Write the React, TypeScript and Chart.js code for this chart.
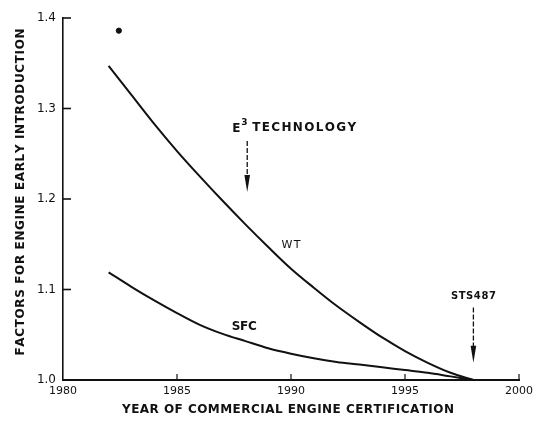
import React, { useEffect, useRef } from "react";
import { Chart, registerables } from "chart.js";

Chart.register(...registerables);

// ---- data ----
const years = [1982, 1983, 1984, 1985, 1986, 1987, 1988, 1989, 1990, 1991, 1992, 1993, 1994, 1995, 1996, 1997, 1998];
const wtValues = [1.347, 1.315, 1.283, 1.253, 1.225, 1.198, 1.172, 1.147, 1.123, 1.102, 1.082, 1.064, 1.047, 1.032, 1.019, 1.008, 1.0];
const sfcValues = [1.119, 1.103, 1.088, 1.074, 1.061, 1.051, 1.043, 1.035, 1.029, 1.024, 1.02, 1.017, 1.014, 1.011, 1.008, 1.004, 1.0];
const dotYears = [1982.45];
const dotValues = [1.386];

const xTicks = [1980, 1985, 1990, 1995, 2000];
const yTicks = [1.0, 1.1, 1.2, 1.3, 1.4];
const xTitle = "YEAR OF COMMERCIAL ENGINE CERTIFICATION";
const yTitle = "FACTORS FOR ENGINE EARLY INTRODUCTION";

const curveLabels = ["WT", "SFC"];
const curveLabelYears = [1990.0, 1987.95];
const curveLabelValues = [1.149, 1.0586];

const e3Label = ["E", "3", "TECHNOLOGY"];
const e3Year = 1987.42;
const e3Value = 1.274;
const e3ArrowYear = 1988.08;
const e3ArrowFrom = 1.264;
const e3ArrowTo = 1.2077;

const stsLabel = "STS487";
const stsYear = 1998.0;
const stsValue = 1.092;
const stsArrowFrom = 1.08;
const stsArrowTo = 1.019;

const INK = "#111";
const FONT = "'DejaVu Sans', sans-serif";

function drawSpaced(ctx: CanvasRenderingContext2D, text: string, cx: number, cy: number, font: string, target: number, rotate = 0) {
  ctx.save();
  ctx.font = font;
  ctx.fillStyle = INK;
  ctx.textBaseline = "middle";
  ctx.textAlign = "left";
  const chars = text.split("");
  const widths = chars.map((c) => ctx.measureText(c).width);
  const natural = widths.reduce((a, b) => a + b, 0);
  const gap = chars.length > 1 ? (target - natural) / (chars.length - 1) : 0;
  ctx.translate(cx, cy);
  if (rotate) ctx.rotate(rotate);
  let x = -target / 2;
  chars.forEach((c, i) => {
    ctx.fillText(c, x, 0);
    x += widths[i] + gap;
  });
  ctx.restore();
}

function drawArrow(ctx: CanvasRenderingContext2D, x: number, y0: number, y1: number) {
  ctx.save();
  ctx.strokeStyle = INK;
  ctx.fillStyle = INK;
  ctx.lineWidth = 1.3;
  ctx.setLineDash([5, 2]);
  ctx.beginPath();
  ctx.moveTo(x, y0);
  ctx.lineTo(x, y1 - 12);
  ctx.stroke();
  ctx.setLineDash([]);
  ctx.beginPath();
  ctx.moveTo(x - 2.8, y1 - 17);
  ctx.lineTo(x + 2.8, y1 - 17);
  ctx.lineTo(x, y1);
  ctx.closePath();
  ctx.fill();
  ctx.restore();
}

const decorPlugin = {
  id: "decor",
  afterDraw(chart: any) {
    const ctx: CanvasRenderingContext2D = chart.ctx;
    const xs = chart.scales.x;
    const ys = chart.scales.y;
    const area = chart.chartArea;
    ctx.save();
    ctx.strokeStyle = INK;
    // inward tick marks
    ctx.lineWidth = 1.6;
    yTicks.slice(1).forEach((v) => {
      const py = ys.getPixelForValue(v);
      ctx.beginPath();
      ctx.moveTo(area.left, py);
      ctx.lineTo(area.left + 8, py);
      ctx.stroke();
    });
    ctx.lineWidth = 1.2;
    xTicks.slice(1).forEach((v) => {
      const px = xs.getPixelForValue(v);
      ctx.beginPath();
      ctx.moveTo(px, area.bottom);
      ctx.lineTo(px, area.bottom - 6);
      ctx.stroke();
    });
    ctx.restore();

    // axis titles
    drawSpaced(ctx, yTitle, 21, area.top + 174, `bold 12px ${FONT}`, 327, -Math.PI / 2);
    drawSpaced(ctx, xTitle, xs.getPixelForValue(1990) - 3, area.bottom + 30, `bold 12px ${FONT}`, 332);

    // curve labels
    drawSpaced(ctx, curveLabels[0], xs.getPixelForValue(curveLabelYears[0]), ys.getPixelForValue(curveLabelValues[0]), `11px ${FONT}`, 19);
    drawSpaced(ctx, curveLabels[1], xs.getPixelForValue(curveLabelYears[1]), ys.getPixelForValue(curveLabelValues[1]), `bold 12px ${FONT}`, 25);

    // E3 technology
    const ex = xs.getPixelForValue(e3Year);
    const ey = ys.getPixelForValue(e3Value);
    ctx.save();
    ctx.fillStyle = INK;
    ctx.textBaseline = "alphabetic";
    ctx.textAlign = "left";
    ctx.font = `bold 12px ${FONT}`;
    ctx.fillText(e3Label[0], ex, ey);
    ctx.font = `bold 9px ${FONT}`;
    ctx.fillText(e3Label[1], ex + 9, ey - 7);
    ctx.restore();
    drawSpaced(ctx, e3Label[2], ex + 20 + 52, ey - 4.5, `bold 12px ${FONT}`, 104);
    drawArrow(ctx, xs.getPixelForValue(e3ArrowYear), ys.getPixelForValue(e3ArrowFrom), ys.getPixelForValue(e3ArrowTo));

    // STS487
    drawSpaced(ctx, stsLabel, xs.getPixelForValue(stsYear), ys.getPixelForValue(stsValue), `bold 10px ${FONT}`, 45);
    drawArrow(ctx, xs.getPixelForValue(stsYear), ys.getPixelForValue(stsArrowFrom), ys.getPixelForValue(stsArrowTo));
  },
};

export default function App() {
  const ref = useRef<HTMLCanvasElement | null>(null);
  useEffect(() => {
    if (!ref.current) return;
    const chart = new Chart(ref.current, {
      type: "line",
      data: {
        datasets: [
          {
            label: "WT",
            data: years.map((x, i) => ({ x, y: wtValues[i] })),
            borderColor: INK,
            borderWidth: 2,
            pointRadius: 0,
            cubicInterpolationMode: "monotone",
            fill: false,
            clip: false as any,
          },
          {
            label: "SFC",
            data: years.map((x, i) => ({ x, y: sfcValues[i] })),
            borderColor: INK,
            borderWidth: 2,
            pointRadius: 0,
            cubicInterpolationMode: "monotone",
            fill: false,
            clip: false as any,
          },
          {
            type: "scatter" as any,
            label: "point",
            data: dotYears.map((x, i) => ({ x, y: dotValues[i] })),
            backgroundColor: INK,
            borderColor: INK,
            pointRadius: 2.6,
            showLine: false,
          },
        ],
      },
      options: {
        responsive: false,
        animation: false,
        layout: { padding: { left: 0, right: 17, top: 18, bottom: 0 } },
        plugins: { legend: { display: false }, tooltip: { enabled: false } },
        scales: {
          x: {
            type: "linear",
            min: 1980,
            max: 2000,
            afterBuildTicks: (s: any) => {
              s.ticks = xTicks.map((v) => ({ value: v }));
            },
            afterFit: (s: any) => {
              s.height = 41;
            },
            grid: { display: false, drawTicks: false },
            border: { display: true, color: INK, width: 2 },
            ticks: {
              color: INK,
              padding: 5,
              font: { family: FONT, size: 11 },
              maxRotation: 0,
              autoSkip: false,
              callback: (v: any) => String(v),
            },
          },
          y: {
            type: "linear",
            min: 1.0,
            max: 1.4,
            afterBuildTicks: (s: any) => {
              s.ticks = yTicks.map((v) => ({ value: v }));
            },
            afterFit: (s: any) => {
              s.width = 63;
            },
            grid: { display: false, drawTicks: false },
            border: { display: true, color: INK, width: 1.6 },
            ticks: {
              color: INK,
              padding: 7,
              font: { family: FONT, size: 12 },
              autoSkip: false,
              callback: (v: any) => Number(v).toFixed(1),
            },
          },
        },
      },
      plugins: [decorPlugin],
    } as any);
    return () => chart.destroy();
  }, []);
  return (
    <div style={{ position: "absolute", left: 0, top: 0, width: 538, height: 421, background: "#fff" }}>
      <canvas ref={ref} width={538} height={421} />
    </div>
  );
}
